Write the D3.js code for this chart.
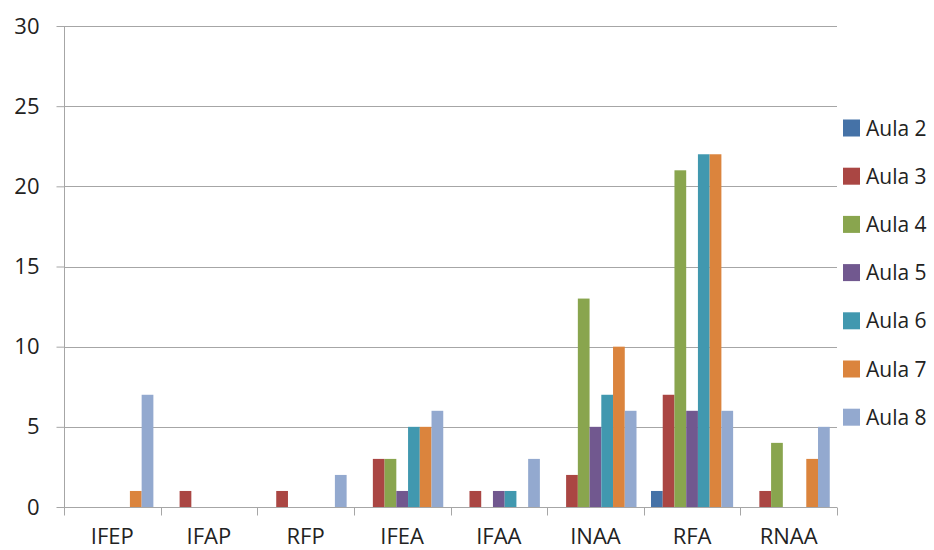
<!DOCTYPE html>
<html>
<head>
<meta charset="utf-8">
<script src="https://cdn.jsdelivr.net/npm/d3@7"></script>
<style>
  html, body { margin: 0; padding: 0; background: #fff; }
  svg { display: block; font-family: "Open Sans", "Noto Sans", sans-serif; }
</style>
</head>
<body>
<svg id="chart" width="934" height="550"></svg>
<script>
// Categories along the x axis
const categories = ["IFEP", "IFAP", "RFP", "IFEA", "IFAA", "INAA", "RFA", "RNAA"];

// One array per lesson, values in category order
const aula2 = [0, 0, 0, 0, 0, 0, 1, 0];
const aula3 = [0, 1, 1, 3, 1, 2, 7, 1];
const aula4 = [0, 0, 0, 3, 0, 13, 21, 4];
const aula5 = [0, 0, 0, 1, 1, 5, 6, 0];
const aula6 = [0, 0, 0, 5, 1, 7, 22, 0];
const aula7 = [1, 0, 0, 5, 0, 10, 22, 3];
const aula8 = [7, 0, 2, 6, 3, 6, 6, 5];

const seriesNames = ["Aula 2", "Aula 3", "Aula 4", "Aula 5", "Aula 6", "Aula 7", "Aula 8"];
const seriesValues = [aula2, aula3, aula4, aula5, aula6, aula7, aula8];
const seriesColors = ["#4572A7", "#AA4643", "#89A54E", "#71588F", "#4198AF", "#DB843D", "#93A9CF"];

const yTicks = [0, 5, 10, 15, 20, 25, 30];

const svg = d3.select("#chart");
const plot = { left: 64, right: 837, top: 26, bottom: 507 };

const x = d3.scaleBand()
  .domain(categories)
  .range([plot.left, plot.right])
  .paddingInner(0)
  .paddingOuter(0);

// Bars inside a category: 7 bars plus a gap of 1.5 bar widths split on both sides
const xInner = d3.scaleBand()
  .domain(seriesNames)
  .range([0, x.bandwidth()])
  .paddingOuter(0.75 * 7 / 8.5)
  .paddingInner(0);

const y = d3.scaleLinear().domain([0, 30]).range([plot.bottom, plot.top]);

// Horizontal gridlines
svg.append("g")
  .selectAll("line")
  .data(yTicks)
  .join("line")
  .attr("x1", plot.left)
  .attr("x2", plot.right)
  .attr("y1", d => Math.round(y(d)) + 0.5)
  .attr("y2", d => Math.round(y(d)) + 0.5)
  .attr("stroke", "#a6a6a6")
  .attr("stroke-width", 1);

// Bars
const rows = [];
categories.forEach((c, ci) => {
  seriesNames.forEach((s, si) => {
    rows.push({ cat: c, series: s, value: seriesValues[si][ci], color: seriesColors[si] });
  });
});

svg.append("g")
  .selectAll("rect")
  .data(rows.filter(d => d.value > 0))
  .join("rect")
  .attr("x", d => x(d.cat) + xInner(d.series))
  .attr("y", d => y(d.value))
  .attr("width", xInner.bandwidth())
  .attr("height", d => y(0) - y(d.value))
  .attr("fill", d => d.color);

// Y axis
const yAxis = svg.append("g")
  .attr("transform", `translate(${plot.left + 0.5},0)`)
  .call(d3.axisLeft(y).tickValues(yTicks).tickSize(8).tickPadding(17).tickFormat(d3.format("d")));
yAxis.select(".domain").attr("stroke", "#a6a6a6").attr("d", `M0,${plot.top}V${plot.bottom}`);
yAxis.selectAll(".tick line").attr("stroke", "#a6a6a6");
yAxis.selectAll(".tick text").attr("font-size", 22).attr("fill", "#222")
  .attr("font-family", "'Open Sans', 'Noto Sans', sans-serif");

// X axis with tick marks at band boundaries
const xAxis = svg.append("g")
  .attr("transform", `translate(0,${Math.round(plot.bottom) + 0.5})`);
xAxis.append("line")
  .attr("x1", plot.left).attr("x2", plot.right)
  .attr("stroke", "#a6a6a6");
const boundaries = categories.map(c => x(c)).concat([plot.right]);
xAxis.selectAll("line.tk")
  .data(boundaries)
  .join("line")
  .attr("class", "tk")
  .attr("x1", d => Math.round(d) + 0.5)
  .attr("x2", d => Math.round(d) + 0.5)
  .attr("y1", 0)
  .attr("y2", 8)
  .attr("stroke", "#a6a6a6");
xAxis.selectAll("text")
  .data(categories)
  .join("text")
  .attr("x", d => x(d) + x.bandwidth() / 2)
  .attr("y", 36)
  .attr("text-anchor", "middle")
  .attr("font-size", 22)
  .attr("fill", "#222")
  .text(d => d);

// Legend
const legend = svg.append("g").attr("transform", "translate(843,128)");
const items = legend.selectAll("g")
  .data(seriesNames)
  .join("g")
  .attr("transform", (d, i) => `translate(0,${i * 48.2})`);
items.append("rect")
  .attr("x", 0).attr("y", -8.5)
  .attr("width", 17).attr("height", 17)
  .attr("fill", (d, i) => seriesColors[i]);
items.append("text")
  .attr("x", 23).attr("y", 0)
  .attr("dy", "0.36em")
  .attr("font-size", 21)
  .attr("fill", "#222")
  .text(d => d);
</script>
</body>
</html>
